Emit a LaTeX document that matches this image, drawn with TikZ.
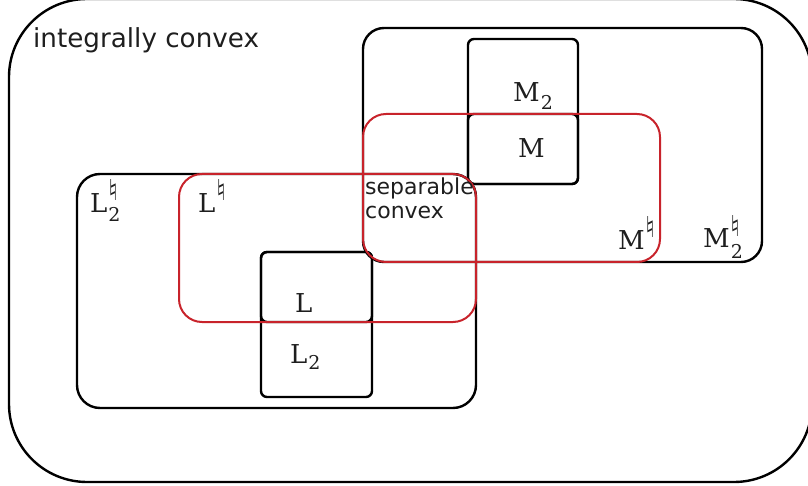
\documentclass[tikz,border=0pt]{standalone}
\usepackage{fontspec}
\setmainfont{DejaVu Serif}
\newfontfamily\classfont{DejaVu Sans}
\definecolor{setred}{HTML}{C8232B}
\definecolor{textgray}{HTML}{1E1E1E}
% natural sign, sized as in the picture
\newcommand{\nat}{\resizebox*{10pt}{21pt}{\classfont ♮}}
% class name: letter, subscript, superscript (optional drop of the subscript)
\newcommand{\clsname}[4][6pt]{#2\kern1pt\makebox[0pt][l]{\raisebox{-#1}{\fontsize{19}{19}\selectfont #3}}\raisebox{12pt}{#4}}
\tikzset{
  classbox/.style={line width=2.4pt, rounded corners=#1},
  sepbox/.style={line width=2pt, draw=setred, rounded corners=23pt},
  classlabel/.style={inner sep=0pt, anchor=base west, text=textgray, font=\fontsize{26}{30}\selectfont},
  wordlabel/.style={inner sep=0pt, anchor=base west, text=textgray, align=left}
}
\begin{document}
\begin{tikzpicture}[x=1pt,y=-1pt]
\useasboundingbox (0,0) rectangle (808,486);
\clip (0,0) rectangle (808,486);

%draw outer region
\draw[classbox=78pt] (9,-1) rectangle (812,482);

%draw black classes
\draw[classbox=21pt] (363,28) rectangle (762,262);
\draw[classbox=6pt] (468,39) rectangle (578,184);
\draw[classbox=6pt] (468,114) rectangle (578,184);
\draw[classbox=23pt] (77,174) rectangle (476,408);
\draw[classbox=6pt] (261,252) rectangle (372,397);
\draw[classbox=6pt] (261,252) rectangle (372,322);

%draw red classes
\draw[sepbox] (363,114) rectangle (660,262);
\draw[sepbox] (179,174) rectangle (476,322);

%labels
\node[wordlabel, font=\classfont\fontsize{26.2}{29}\selectfont] (ic) at (33,48) {integrally convex};
\node[wordlabel, font=\classfont\fontsize{22}{24.5}\selectfont] (sep) at (365,219) {separable\\convex};

\node[classlabel] (M2) at (513,102) {\clsname[8pt]{M}{2}{}};
\node[classlabel] (M) at (518,158) {M};
\node[classlabel] (Mn) at (618,250) {\clsname{M}{}{\nat}};
\node[classlabel] (M2n) at (703,248) {\clsname[10pt]{M}{2}{\nat}};
\node[classlabel] (L2n) at (90,213) {\clsname[9pt]{L}{2}{\nat}};
\node[classlabel] (Ln) at (198,213) {\clsname{L}{}{\nat}};
\node[classlabel] (L) at (295,312) {L};
\node[classlabel] (L2) at (290,363) {\clsname{L}{2}{}};
\end{tikzpicture}
\end{document}
